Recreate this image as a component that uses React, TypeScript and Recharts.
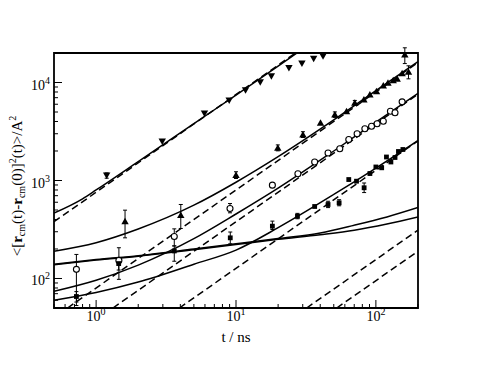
import {
  ComposedChart,
  ErrorBar,
  Line,
  ReferenceArea,
  Scatter,
  XAxis,
  YAxis,
} from "recharts";

type Pt = { t: number; v: number; err?: [number, number] };

const xTicks = [
  0.5, 0.6, 0.7, 0.8, 0.9, 1, 2, 3, 4, 5, 6, 7, 8, 9, 10, 20, 30, 40, 50, 60,
  70, 80, 90, 100, 200,
];
const yTicks = [
  50, 60, 70, 80, 90, 100, 200, 300, 400, 500, 600, 700, 800, 900, 1000, 2000,
  3000, 4000, 5000, 6000, 7000, 8000, 9000, 10000, 20000,
];
const xMajor = [1, 10, 100];
const yMajor = [100, 1000, 10000];

// measured points
const downTri: Pt[] = [
  { t: 1.19, v: 1125, err: [70, 70] },
  { t: 2.97, v: 2500 },
  { t: 5.95, v: 4830 },
  { t: 8.94, v: 6550 },
  { t: 11.7, v: 8340 },
  { t: 14.9, v: 10070 },
  { t: 17.9, v: 11600 },
  { t: 23.9, v: 14100 },
  { t: 29.6, v: 15600 },
  { t: 35.9, v: 17500 },
  { t: 41.9, v: 18500 },
];

const upTri: Pt[] = [
  { t: 1.61, v: 384, err: [124, 114] },
  { t: 4.03, v: 445, err: [121, 124] },
  { t: 10.0, v: 1138, err: [90, 90] },
  { t: 19.9, v: 2157, err: [150, 150] },
  { t: 30.1, v: 2946, err: [200, 200] },
  { t: 40.2, v: 3880 },
  { t: 50.9, v: 4710, err: [300, 300] },
  { t: 61.7, v: 5090 },
  { t: 70.7, v: 6210, err: [350, 350] },
  { t: 82.1, v: 6710 },
  { t: 90.6, v: 7550 },
  { t: 101, v: 8150 },
  { t: 113, v: 9310 },
  { t: 122, v: 9930 },
  { t: 133, v: 10550 },
  { t: 142, v: 10900 },
  { t: 154, v: 12400 },
  { t: 171, v: 12900, err: [2000, 1900] },
  { t: 161, v: 19300, err: [3700, 3300] },
];

const circles: Pt[] = [
  { t: 0.723, v: 124, err: [71, 52] },
  { t: 1.455, v: 153, err: [55, 53] },
  { t: 3.62, v: 268, err: [53, 53] },
  { t: 9.06, v: 518, err: [50, 64] },
  { t: 18.2, v: 896 },
  { t: 27.7, v: 1170 },
  { t: 36.5, v: 1545 },
  { t: 45.5, v: 1908 },
  { t: 55.2, v: 2105 },
  { t: 64.0, v: 2620 },
  { t: 73.4, v: 3000 },
  { t: 83.4, v: 3370 },
  { t: 93.1, v: 3580 },
  { t: 102, v: 3790 },
  { t: 113, v: 4030 },
  { t: 127, v: 5090 },
  { t: 137, v: 4910 },
  { t: 154, v: 6350 },
];

const squares: Pt[] = [
  { t: 0.723, v: 65.5, err: [8, 8] },
  { t: 1.45, v: 142, err: [20, 20] },
  { t: 3.62, v: 191, err: [41, 24] },
  { t: 9.1, v: 260, err: [34, 38] },
  { t: 18.2, v: 342, err: [26, 43] },
  { t: 27.5, v: 432, err: [25, 30] },
  { t: 36.5, v: 543 },
  { t: 45.5, v: 569, err: [40, 45] },
  { t: 54.6, v: 592, err: [40, 45] },
  { t: 64, v: 1023 },
  { t: 72.7, v: 984 },
  { t: 82.4, v: 843, err: [90, 100] },
  { t: 90.6, v: 1178 },
  { t: 100, v: 1374 },
  { t: 110, v: 1348 },
  { t: 119, v: 1737 },
  { t: 128, v: 1545 },
  { t: 137, v: 1717 },
  { t: 145, v: 1977 },
  { t: 156, v: 2072 },
];

// fitted curves (solid)
const fitDown: Pt[] = [
  { t: 0.5, v: 465 }, { t: 0.8, v: 650 }, { t: 1, v: 800 }, { t: 2, v: 1560 },
  { t: 5, v: 3800 }, { t: 10, v: 7450 }, { t: 20, v: 14700 }, { t: 30, v: 22000 },
];
const fitUp: Pt[] = [
  { t: 0.5, v: 190 }, { t: 1, v: 232 }, { t: 2, v: 320 }, { t: 5, v: 560 },
  { t: 10, v: 960 }, { t: 20, v: 1750 }, { t: 50, v: 4150 }, { t: 100, v: 8250 },
  { t: 200, v: 16300 },
];
const fitCircle: Pt[] = [
  { t: 0.5, v: 74 }, { t: 1, v: 96 }, { t: 2, v: 137 }, { t: 5, v: 255 },
  { t: 10, v: 455 }, { t: 20, v: 835 }, { t: 50, v: 2000 }, { t: 100, v: 3950 },
  { t: 200, v: 7750 },
];
const fitSquare: Pt[] = [
  { t: 0.5, v: 60 }, { t: 1, v: 72 }, { t: 2, v: 92 }, { t: 5, v: 140 },
  { t: 10, v: 195 }, { t: 20, v: 330 }, { t: 50, v: 720 }, { t: 100, v: 1340 },
  { t: 200, v: 2560 },
];
const slowUpper: Pt[] = [
  { t: 0.5, v: 140 }, { t: 1, v: 156 }, { t: 2, v: 171 }, { t: 5, v: 200 },
  { t: 10, v: 226 }, { t: 20, v: 256 }, { t: 40, v: 292 }, { t: 70, v: 350 },
  { t: 120, v: 425 }, { t: 200, v: 530 },
];
const slowLower: Pt[] = [
  { t: 0.5, v: 138 }, { t: 1, v: 154 }, { t: 2, v: 169 }, { t: 5, v: 197 },
  { t: 10, v: 222 }, { t: 20, v: 251 }, { t: 40, v: 280 }, { t: 70, v: 311 },
  { t: 120, v: 360 }, { t: 200, v: 425 },
];

// diffusive limits (dashed)
const dashDown: Pt[] = [{ t: 0.5, v: 380 }, { t: 30, v: 22500 }];
const dashUp: Pt[] = [{ t: 0.625, v: 50 }, { t: 200, v: 16000 }];
const dashCircle: Pt[] = [{ t: 1.32, v: 50 }, { t: 200, v: 7600 }];
const dashSquare: Pt[] = [{ t: 3.94, v: 50 }, { t: 200, v: 2540 }];
const dashSlowUpper: Pt[] = [{ t: 32, v: 50 }, { t: 200, v: 312 }];
const dashSlowLower: Pt[] = [{ t: 52.5, v: 50 }, { t: 200, v: 190 }];

const solidFits = [fitDown, fitUp, fitCircle, fitSquare, slowUpper, slowLower];
const dashedFits = [dashDown, dashUp, dashCircle, dashSquare, dashSlowUpper, dashSlowLower];

const serif = "'Liberation Serif', 'Times New Roman', serif";

function XTick(props: any) {
  const { x, y, payload } = props;
  const major = xMajor.includes(payload.value);
  return (
    <g>
      <line x1={x} x2={x} y1={y} y2={y - (major ? 8 : 4)} stroke="#000" strokeWidth={1} />
      {major && (
        <text x={x} y={y + 13} textAnchor="middle" fontFamily={serif} fontSize={14} fill="#000">
          10
          <tspan dy={-6} fontSize={10}>
            {Math.round(Math.log10(payload.value))}
          </tspan>
        </text>
      )}
    </g>
  );
}

function YTick(props: any) {
  const { x, y, payload } = props;
  const major = yMajor.includes(payload.value);
  return (
    <g>
      <line x1={x} x2={x + (major ? 8 : 4)} y1={y} y2={y} stroke="#000" strokeWidth={1} />
      {major && (
        <text x={x - 4} y={y + 7} textAnchor="end" fontFamily={serif} fontSize={14} fill="#000">
          10
          <tspan dy={-6} fontSize={10}>
            {Math.round(Math.log10(payload.value))}
          </tspan>
        </text>
      )}
    </g>
  );
}

function XTitle() {
  return (
    <text x={236} y={342} textAnchor="middle" fontFamily={serif} fontSize={15} fill="#000">
      t / ns
    </text>
  );
}

function YTitle() {
  return (
    <text
      transform="translate(22,186) rotate(-90)"
      textAnchor="middle"
      fontFamily={serif}
      fontSize={15}
      fill="#000"
    >
      {"<["}
      <tspan fontWeight="bold">r</tspan>
      <tspan fontSize={10} dy={3}>cm</tspan>
      <tspan dy={-3}>(t)-</tspan>
      <tspan fontWeight="bold">r</tspan>
      <tspan fontSize={10} dy={3}>cm</tspan>
      <tspan dy={-3}>(0)]</tspan>
      <tspan fontSize={10} dy={-6}>2</tspan>
      <tspan dy={6}>{"(t)>/A"}</tspan>
      <tspan fontSize={10} dy={-6}>2</tspan>
    </text>
  );
}

const downShape = (p: any) => (
  <polygon
    points={`${p.cx},${p.cy + 3.5} ${p.cx - 3.7},${p.cy - 3} ${p.cx + 3.7},${p.cy - 3}`}
    fill="#000"
  />
);
const upShape = (p: any) => (
  <polygon
    points={`${p.cx},${p.cy - 3.5} ${p.cx - 3.7},${p.cy + 3} ${p.cx + 3.7},${p.cy + 3}`}
    fill="#000"
  />
);
const circleShape = (p: any) => (
  <circle cx={p.cx} cy={p.cy} r={3} fill="#fff" stroke="#000" strokeWidth={1.1} />
);
const squareShape = (p: any) => (
  <rect x={p.cx - 2.4} y={p.cy - 2.4} width={4.8} height={4.8} fill="#000" />
);
const noShape = () => <g />;

const markerSets = [
  { data: downTri, shape: downShape },
  { data: upTri, shape: upShape },
  { data: circles, shape: circleShape },
  { data: squares, shape: squareShape },
];

export default function App() {
  return (
    <div style={{ position: "absolute", left: 0, top: 0, background: "#fff" }}>
      <ComposedChart
        width={485}
        height={374}
        margin={{ top: 53, right: 67, bottom: 0, left: 0 }}
      >
        <XAxis
          allowDataOverflow
          axisLine={false}
          dataKey="t"
          domain={[0.5, 200]}
          height={66}
          interval={0}
          label={<XTitle />}
          scale="log"
          tick={XTick}
          tickLine={false}
          tickMargin={0}
          tickSize={0}
          ticks={xTicks}
          type="number"
        />
        <YAxis
          allowDataOverflow
          axisLine={false}
          dataKey="v"
          domain={[50, 20000]}
          interval={0}
          label={<YTitle />}
          scale="log"
          tick={YTick}
          tickLine={false}
          tickMargin={0}
          tickSize={0}
          ticks={yTicks}
          type="number"
          width={54}
        />
        {solidFits.map((d, i) => (
          <Line
            key={`fit-${i}`}
            data={d}
            dataKey="v"
            dot={false}
            isAnimationActive={false}
            stroke="#000"
            strokeWidth={1.5}
            type="monotone"
          />
        ))}
        {dashedFits.map((d, i) => (
          <Line
            key={`dash-${i}`}
            data={d}
            dataKey="v"
            dot={false}
            isAnimationActive={false}
            stroke="#000"
            strokeDasharray="7 4"
            strokeWidth={1.5}
            type="linear"
          />
        ))}
        {markerSets.map((m, i) => (
          <Scatter
            key={`err-${i}`}
            data={m.data.filter((p) => p.err)}
            isAnimationActive={false}
            shape={noShape}
          >
            <ErrorBar dataKey="err" direction="y" isAnimationActive={false} stroke="#000" strokeWidth={1} width={2} />
          </Scatter>
        ))}
        {markerSets.map((m, i) => (
          <Scatter key={`pts-${i}`} data={m.data} isAnimationActive={false} shape={m.shape} />
        ))}
        <ReferenceArea
          fill="none"
          ifOverflow="visible"
          stroke="#000"
          strokeWidth={1.8}
          x1={0.5}
          x2={200}
          y1={50}
          y2={20000}
        />
      </ComposedChart>
    </div>
  );
}
